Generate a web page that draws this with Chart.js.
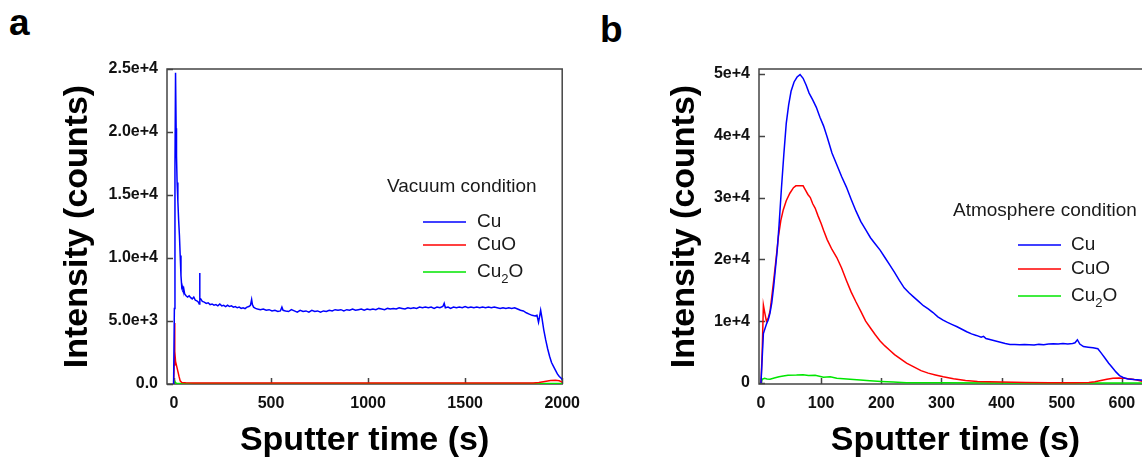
<!DOCTYPE html>
<html>
<head>
<meta charset="utf-8">
<script src="https://cdn.jsdelivr.net/npm/chart.js@4.4.1/dist/chart.umd.min.js"></script>
<style>
    html, body { margin: 0; padding: 0; background: #fff; overflow: hidden; }
    body { width: 1142px; height: 461px; position: relative; }
    canvas { position: absolute; top: 0; }
    #chart-a { left: 0; }
    #chart-b { left: 600px; }
    .panel-tag { position: absolute; font: bold 37px "Liberation Sans", Arial, sans-serif; line-height: 1; color: #000; }
</style>
</head>
<body>
<div class="panel-tag" style="left: 9px; top: 4px;">a</div>
<div class="panel-tag" style="left: 600px; top: 11px;">b</div>
<canvas id="chart-a" width="590" height="461"></canvas>
<canvas id="chart-b" width="560" height="461"></canvas>
<script>
// ---- panel a: vacuum condition ----
const series_labels = ["Cu", "CuO", "Cu₂O"];
const series_colours = ["#0000ff", "#ff0000", "#00e600"];

const cu_a_time = [-2, 2, 5, 8, 11, 13, 16, 20, 24, 28, 32, 36, 40, 42, 46, 50, 55, 62, 70, 78, 86, 94, 102, 110, 118, 126, 130, 132, 134, 138, 146, 156, 166, 176, 186, 196, 206, 216, 226, 236, 246, 256, 266, 276, 286, 296, 306, 316, 326, 336, 346, 356, 366, 376, 386, 394, 400, 404, 410, 420, 430, 445, 460, 475, 490, 505, 520, 535, 548, 556, 562, 575, 590, 605, 620, 635, 650, 665, 680, 695, 710, 725, 740, 755, 770, 785, 800, 815, 830, 845, 860, 875, 890, 905, 920, 935, 950, 965, 980, 995, 1010, 1025, 1040, 1055, 1070, 1085, 1100, 1115, 1130, 1145, 1160, 1175, 1190, 1205, 1220, 1235, 1250, 1265, 1280, 1295, 1310, 1325, 1340, 1355, 1370, 1385, 1392, 1398, 1412, 1425, 1440, 1455, 1470, 1485, 1500, 1515, 1530, 1545, 1560, 1575, 1590, 1605, 1620, 1635, 1650, 1665, 1680, 1695, 1710, 1725, 1740, 1755, 1770, 1785, 1800, 1815, 1830, 1845, 1860, 1870, 1878, 1883, 1889, 1895, 1905, 1915, 1925, 1935, 1945, 1955, 1965, 1975, 1985, 1995, 2000];
const cu_a = [0, 6000, 17000, 24700, 20300, 18100, 16000, 14500, 13000, 11800, 10200, 8600, 7700, 7800, 7500, 7600, 7150, 7000, 6900, 7000, 6850, 6750, 6900, 6650, 6600, 6500, 6350, 8800, 6700, 6750, 6550, 6500, 6400, 6450, 6300, 6350, 6250, 6300, 6200, 6350, 6200, 6250, 6150, 6250, 6150, 6200, 6100, 6150, 6050, 6100, 6000, 6050, 5980, 6100, 6150, 6250, 6700, 6300, 6100, 6000, 5950, 5900, 5950, 5850, 5900, 5800, 5850, 5750, 5800, 6100, 5850, 5800, 5750, 5900, 5800, 5700, 5850, 5750, 5800, 5700, 5850, 5750, 5800, 5700, 5800, 5750, 5850, 5800, 5900, 5850, 5900, 5800, 5900, 5850, 5950, 5850, 5900, 5950, 5850, 5950, 5900, 5950, 5900, 6000, 5950, 5900, 6000, 5950, 6000, 5950, 6050, 6000, 5950, 6050, 6000, 6050, 6000, 6100, 6050, 6100, 6050, 6100, 6000, 6100, 6050, 6150, 6400, 6050, 6100, 6000, 6100, 6050, 6100, 6050, 6150, 6050, 6100, 6050, 6100, 6050, 6100, 6050, 6100, 6050, 6100, 6050, 6000, 6050, 6000, 6050, 6000, 6050, 5950, 5850, 5800, 5650, 5550, 5450, 5400, 5450, 4900, 5300, 5850, 5300, 4300, 3500, 2800, 2200, 1700, 1400, 1100, 800, 600, 450, 350];

const cuo_a_time = [-2, 1, 3, 5, 8, 14, 20, 26, 32, 40, 60, 100, 300, 600, 900, 1200, 1500, 1850, 1880, 1910, 1940, 1965, 1985, 2000];
const cuo_a = [0, 1500, 4850, 2600, 1800, 1400, 1000, 600, 250, 120, 100, 80, 80, 80, 80, 80, 80, 80, 120, 200, 280, 300, 250, 150];

const cu2o_a_time = [-2, 2, 6, 12, 40, 500, 1000, 1500, 2000];
const cu2o_a = [0, 300, 150, 60, 40, 40, 40, 40, 40];

const x_ticks_a = [0, 500, 1000, 1500, 2000];
const x_tick_labels_a = ["0", "500", "1000", "1500", "2000"];
const y_ticks_a = [0, 5000, 10000, 15000, 20000, 25000];
const y_tick_labels_a = ["0.0", "5.0e+3", "1.0e+4", "1.5e+4", "2.0e+4", "2.5e+4"];

// ---- panel b: atmosphere condition ----
const cu_b_time = [0, 2, 4, 6, 9, 12, 15, 18, 21, 24, 27, 30, 34, 38, 42, 46, 50, 55, 60, 65, 70, 75, 80, 86, 92, 98, 104, 110, 118, 126, 134, 142, 150, 158, 166, 174, 182, 190, 198, 206, 214, 222, 230, 238, 246, 254, 262, 270, 278, 286, 294, 302, 310, 318, 326, 334, 342, 350, 358, 366, 370, 374, 382, 390, 398, 406, 414, 422, 430, 438, 446, 454, 462, 470, 478, 486, 494, 502, 510, 518, 522, 526, 530, 536, 544, 552, 560, 566, 572, 578, 584, 590, 596, 602, 610, 620, 630, 640, 650];
const cu_b = [0, 4000, 8000, 8600, 9500, 10200, 11300, 13000, 15500, 18500, 21500, 25500, 31500, 37000, 42000, 45000, 47200, 48700, 49500, 49900, 49300, 48200, 46900, 45800, 44600, 43000, 41600, 39800, 37200, 35300, 33400, 31700, 29700, 27800, 26100, 24800, 23500, 22500, 21500, 20300, 19100, 17900, 16600, 15400, 14600, 13900, 13200, 12500, 12000, 11400, 10700, 10200, 9800, 9450, 9100, 8700, 8300, 7950, 7700, 7400, 7550, 7200, 7000, 6800, 6600, 6400, 6250, 6250, 6200, 6250, 6200, 6150, 6250, 6200, 6300, 6350, 6300, 6400, 6300, 6400, 6500, 7000, 6300, 5900, 5800, 5700, 5550, 4800, 4000, 3200, 2500, 1800, 1200, 900, 650, 550, 500, 400, 350];

const cuo_b_time = [0, 2, 4, 6, 9, 12, 15, 18, 21, 25, 29, 33, 37, 42, 48, 54, 58, 64, 70, 74, 78, 82, 86, 90, 95, 100, 104, 110, 118, 126, 134, 142, 150, 158, 166, 174, 182, 190, 198, 206, 214, 222, 232, 242, 254, 266, 278, 290, 303, 320, 340, 360, 380, 400, 440, 480, 520, 545, 555, 565, 575, 585, 595, 605, 615, 625, 635, 650];
const cuo_b = [0, 5000, 12600, 11500, 10000, 10500, 11600, 14000, 16500, 20000, 23700, 26300, 28000, 29500, 30700, 31600, 31900, 31900, 31900, 31200, 30500, 30000, 29000, 28300, 27000, 25800, 24700, 23200, 21600, 20300, 18600, 16600, 14700, 13100, 11600, 10000, 8900, 7800, 6800, 6000, 5300, 4600, 3900, 3200, 2600, 2000, 1600, 1300, 1000, 700, 400, 250, 200, 150, 80, 60, 60, 80, 200, 400, 600, 780, 800, 750, 650, 500, 250, 100];

const cu2o_b_time = [0, 2, 6, 10, 15, 22, 30, 37, 45, 59, 70, 79, 90, 104, 115, 126, 137, 148, 165, 181, 200, 220, 242, 300, 400, 500, 650];
const cu2o_b = [0, 600, 760, 650, 600, 800, 1000, 1130, 1250, 1290, 1350, 1200, 1250, 920, 1000, 760, 700, 600, 470, 370, 250, 150, 60, 30, 20, 20, 20];

const x_ticks_b = [0, 100, 200, 300, 400, 500, 600];
const x_tick_labels_b = ["0", "100", "200", "300", "400", "500", "600"];
const y_ticks_b = [0, 10000, 20000, 30000, 40000, 50000];
const y_tick_labels_b = ["0", "1e+4", "2e+4", "3e+4", "4e+4", "5e+4"];

const FONT = '"Liberation Sans", Arial, sans-serif';

function toPoints(xs, ys) {
    return xs.map((x, i) => ({ x: x, y: ys[i] }));
}

function makeDatasets(series) {
    return series.map((pts, i) => ({
        label: series_labels[i],
        data: pts,
        borderColor: series_colours[i],
        backgroundColor: series_colours[i],
        borderWidth: 1.5,
        pointRadius: 0,
        tension: 0,
        fill: false
    }));
}

// box round the plot area plus inward tick marks
const framePlugin = {
    id: "frame",
    beforeDatasetsDraw(chart) {
        const { ctx, chartArea: a, scales } = chart;
        ctx.save();
        ctx.strokeStyle = "#444";
        ctx.lineWidth = 1.5;
        ctx.strokeRect(a.left, a.top, a.right - a.left, a.bottom - a.top);
        ctx.beginPath();
        scales.x.ticks.forEach(t => {
            const px = Math.round(scales.x.getPixelForValue(t.value)) + 0.5;
            ctx.moveTo(px, a.bottom);
            ctx.lineTo(px, a.bottom - 6);
        });
        scales.y.ticks.forEach(t => {
            const py = Math.round(scales.y.getPixelForValue(t.value)) + 0.5;
            ctx.moveTo(a.left, py);
            ctx.lineTo(a.left + 6, py);
        });
        ctx.stroke();
        ctx.restore();
    }
};

// legend drawn inside the plot, with subscript 2
const condLegend = {
    id: "condLegend",
    afterDatasetsDraw(chart, args, o) {
        const ctx = chart.ctx;
        const big = "19px " + FONT;
        const small = "13px " + FONT;
        ctx.save();
        ctx.fillStyle = "#1a1a1a";
        ctx.textBaseline = "middle";
        ctx.textAlign = "left";
        ctx.font = big;
        ctx.fillText(o.title, o.titleX, o.titleY);
        chart.data.datasets.forEach((ds, i) => {
            const y = o.rowY[i];
            ctx.strokeStyle = ds.borderColor;
            ctx.lineWidth = 1.5;
            ctx.beginPath();
            ctx.moveTo(o.lineX1, y);
            ctx.lineTo(o.lineX2, y);
            ctx.stroke();
            let x = o.textX;
            for (const ch of ds.label) {
                if (ch === "₂") {
                    ctx.font = small;
                    ctx.fillText("2", x, y + 7);
                    x += ctx.measureText("2").width;
                    ctx.font = big;
                } else {
                    ctx.fillText(ch, x, y);
                    x += ctx.measureText(ch).width;
                }
            }
        });
        ctx.restore();
    }
};

function makeChart(canvasId, series, cfg) {
    const ctx = document.getElementById(canvasId).getContext("2d");
    return new Chart(ctx, {
        type: "line",
        data: { datasets: makeDatasets(series) },
        options: {
            responsive: false,
            animation: false,
            events: [],
            layout: { padding: { left: cfg.padLeft, top: 69, right: cfg.padRight, bottom: 0 } },
            plugins: {
                legend: { display: false },
                tooltip: { enabled: false },
                condLegend: cfg.legend
            },
            scales: {
                x: {
                    type: "linear",
                    min: cfg.xMin,
                    max: cfg.xMax,
                    grid: { display: false, drawTicks: false },
                    border: { display: false },
                    afterBuildTicks: s => { s.ticks = cfg.xTicks.map(v => ({ value: v })); },
                    afterFit: s => { s.height = 77; },
                    ticks: {
                        autoSkip: false,
                        maxRotation: 0,
                        padding: 10,
                        color: "#111",
                        font: { family: FONT, size: 16, weight: "bold" },
                        callback: (v, i) => cfg.xLabels[i]
                    },
                    title: {
                        display: true,
                        text: "Sputter time (s)",
                        color: "#000",
                        padding: { top: 0, bottom: 0 },
                        font: { family: FONT, size: 34, weight: "bold" }
                    }
                },
                y: {
                    type: "linear",
                    min: cfg.yMin,
                    max: cfg.yMax,
                    grid: { display: false, drawTicks: false },
                    border: { display: false },
                    afterBuildTicks: s => { s.ticks = cfg.yTicks.map(v => ({ value: v })); },
                    afterFit: s => { s.width = cfg.yWidth; },
                    ticks: {
                        autoSkip: false,
                        padding: 9,
                        color: "#111",
                        font: { family: FONT, size: 16, weight: "bold" },
                        callback: (v, i) => cfg.yLabels[i]
                    },
                    title: {
                        display: true,
                        text: "Intensity (counts)",
                        color: "#000",
                        padding: { top: cfg.titlePad, bottom: 0 },
                        font: { family: FONT, size: 34, weight: "bold" }
                    }
                }
            }
        },
        plugins: [framePlugin, condLegend]
    });
}

makeChart("chart-a", [
    toPoints(cu_a_time, cu_a),
    toPoints(cuo_a_time, cuo_a),
    toPoints(cu2o_a_time, cu2o_a)
], {
    padLeft: 40, padRight: 9, yWidth: 127, titlePad: 17,
    xMin: -36, xMax: 2000, yMin: 0, yMax: 25000,
    xTicks: x_ticks_a, xLabels: x_tick_labels_a,
    yTicks: y_ticks_a, yLabels: y_tick_labels_a,
    legend: { title: "Vacuum condition", titleX: 387, titleY: 187, lineX1: 423, lineX2: 466, textX: 477, rowY: [222, 245, 272] }
});

makeChart("chart-b", [
    toPoints(cu_b_time, cu_b),
    toPoints(cuo_b_time, cuo_b),
    toPoints(cu2o_b_time, cu2o_b)
], {
    padLeft: 50, padRight: 8, yWidth: 109, titlePad: 14,
    xMin: -3.3, xMax: 650, yMin: -160, yMax: 50800,
    xTicks: x_ticks_b, xLabels: x_tick_labels_b,
    yTicks: y_ticks_b, yLabels: y_tick_labels_b,
    legend: { title: "Atmosphere condition", titleX: 353, titleY: 211, lineX1: 418, lineX2: 461, textX: 471, rowY: [245, 269, 296] }
});
</script>
</body>
</html>
